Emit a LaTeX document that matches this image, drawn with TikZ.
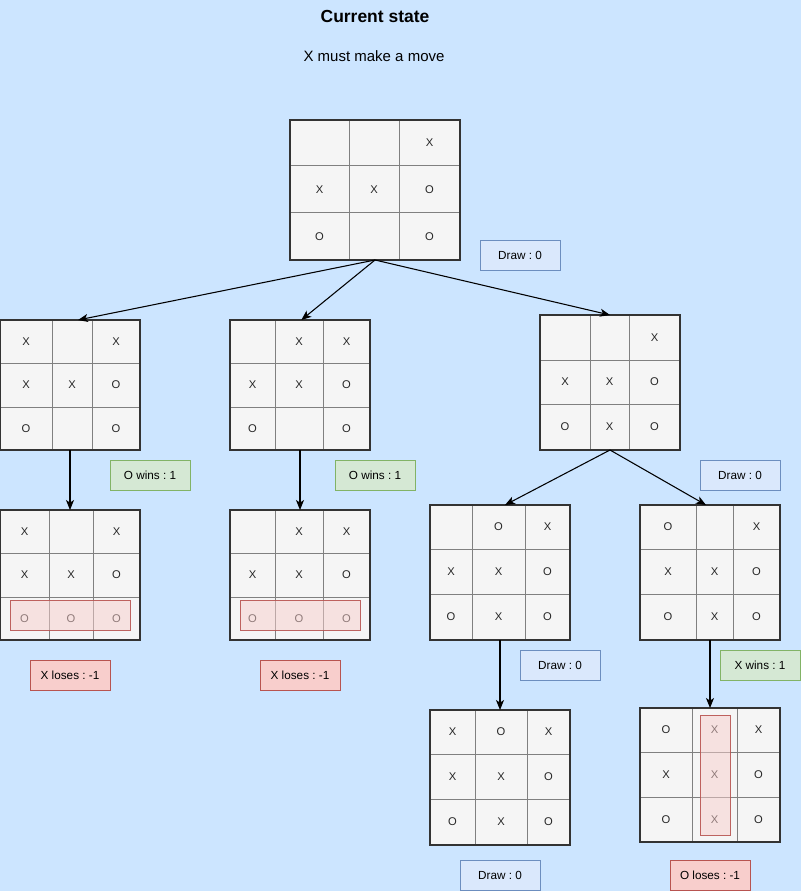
\documentclass[tikz,border=0pt]{standalone}
\usepackage{fontspec}
\setmainfont{Liberation Sans}
\usetikzlibrary{arrows.meta,fit}
\definecolor{bgc}{HTML}{CCE5FF}
\definecolor{cellfill}{HTML}{F5F5F5}
\definecolor{edgec}{HTML}{333333}
\definecolor{gridc}{HTML}{808080}
\definecolor{drawfill}{HTML}{DAE8FC}
\definecolor{drawline}{HTML}{6C8EBF}
\definecolor{winfill}{HTML}{D5E8D4}
\definecolor{winline}{HTML}{82B366}
\definecolor{losefill}{HTML}{F8CECC}
\definecolor{loseline}{HTML}{B85450}
\frenchspacing
\tikzset{
  boardbg/.style={fill=cellfill, inner sep=0pt, outer sep=0pt},
  boardedge/.style={draw=edgec, line width=0.9pt},
  gridline/.style={draw=gridc, line width=0.75pt},
  shadowc/.style={fill=black!55, fill opacity=0.6},
  cell/.style={text=black!85, font=\fontsize{8.4}{10}\selectfont, inner sep=0pt},
  lbl/.style={minimum width=60pt, minimum height=22.5pt, inner sep=0pt, line width=0.75pt,
    font=\fontsize{8.8}{10}\selectfont},
  drawlbl/.style={lbl, fill=drawfill, draw=drawline},
  winlbl/.style={lbl, fill=winfill, draw=winline},
  loselbl/.style={lbl, fill=losefill, draw=loseline},
  hilite/.style={fill=losefill, fill opacity=0.5, draw=loseline, draw opacity=0.9, line width=0.75pt, inner sep=0pt},
  arr/.style={draw=black, line width=0.8pt, -{Stealth[length=7.5pt, width=6pt, inset=2pt]}},
}
\newcommand\setgeom[8]{\def\xA{#1}\def\xB{#2}\def\xC{#3}\def\xD{#4}\def\yA{#5}\def\yB{#6}\def\yC{#7}\def\yD{#8}}
\newcommand\drawboard[1]{%
  \def\bname{#1}%
  \fill[shadowc] (\xA+1.3,\yA+1.3) rectangle (\xD+1.3,\yD+1.3);
  \node[boardbg, fit={(\xA,\yA) (\xD,\yD)}] (#1) {};
  \draw[gridline] (\xB,\yA) -- (\xB,\yD) (\xC,\yA) -- (\xC,\yD)
                  (\xA,\yB) -- (\xD,\yB) (\xA,\yC) -- (\xD,\yC);
  \draw[boardedge] (#1.north west) rectangle (#1.south east);
}
\newcommand\cells[9]{%
  \node[cell] (\bname-1) at ({(\xA+\xB)/2},{(\yA+\yB)/2}) {#1};
  \node[cell] (\bname-2) at ({(\xB+\xC)/2},{(\yA+\yB)/2}) {#2};
  \node[cell] (\bname-3) at ({(\xC+\xD)/2},{(\yA+\yB)/2}) {#3};
  \node[cell] (\bname-4) at ({(\xA+\xB)/2},{(\yB+\yC)/2}) {#4};
  \node[cell] (\bname-5) at ({(\xB+\xC)/2},{(\yB+\yC)/2}) {#5};
  \node[cell] (\bname-6) at ({(\xC+\xD)/2},{(\yB+\yC)/2}) {#6};
  \node[cell] (\bname-7) at ({(\xA+\xB)/2},{(\yC+\yD)/2}) {#7};
  \node[cell] (\bname-8) at ({(\xB+\xC)/2},{(\yC+\yD)/2}) {#8};
  \node[cell] (\bname-9) at ({(\xC+\xD)/2},{(\yC+\yD)/2}) {#9};
}
\begin{document}
\begin{tikzpicture}[x=0.75pt,y=-0.75pt]
\fill[bgc] (0,0) rectangle (801,891);
\useasboundingbox (0,0) rectangle (801,891);

\node[font=\bfseries\fontsize{13.1}{15}\selectfont, inner sep=0pt] (title) at (375,16) {Current state};
\node[font=\fontsize{11.25}{13}\selectfont, inner sep=0pt] (sub) at (374,56) {X must make a move};

% top board
\setgeom{290}{349}{399}{460}{120}{166}{213}{260}
\drawboard{b0}\cells{}{}{X}{X}{X}{O}{O}{}{O}

% level 1
\setgeom{0}{52}{92}{140}{320}{363}{407}{450}
\drawboard{b1}\cells{X}{}{X}{X}{X}{O}{O}{}{O}
\setgeom{230}{275}{323}{370}{320}{363}{407}{450}
\drawboard{b2}\cells{}{X}{X}{X}{X}{O}{O}{}{O}
\setgeom{540}{590}{629}{680}{315}{360}{404}{450}
\drawboard{b5}\cells{}{}{X}{X}{X}{O}{O}{X}{O}

% level 2
\setgeom{0}{49}{93}{140}{510}{553}{597}{640}
\drawboard{b3}\cells{X}{}{X}{X}{X}{O}{O}{O}{O}
\setgeom{230}{275}{323}{370}{510}{553}{597}{640}
\drawboard{b4}\cells{}{X}{X}{X}{X}{O}{O}{O}{O}
\setgeom{430}{472}{525}{570}{505}{549}{594}{640}
\drawboard{b6}\cells{}{O}{X}{X}{X}{O}{O}{X}{O}
\setgeom{640}{696}{733}{780}{505}{549}{594}{640}
\drawboard{b7}\cells{O}{}{X}{X}{X}{O}{O}{X}{O}

% level 3
\setgeom{430}{475}{527}{570}{710}{754}{799}{845}
\drawboard{b8}\cells{X}{O}{X}{X}{X}{O}{O}{X}{O}
\setgeom{640}{692}{737}{780}{708}{752}{797}{842}
\drawboard{b9}\cells{O}{X}{X}{X}{X}{O}{O}{X}{O}

% highlights
\node[hilite, fit={(10,600) (130,630)}] (h3) {};
\node[hilite, fit={(240,600) (360,630)}] (h4) {};
\node[hilite, fit={(700,715) (730,835)}] (h9) {};

% labels
\node[drawlbl] (l0) at (520,255) {Draw : 0};
\node[winlbl] (l1) at (150,475) {O wins : 1};
\node[winlbl] (l2) at (375,475) {O wins : 1};
\node[drawlbl] (l5) at (740,475) {Draw : 0};
\node[loselbl] (l3) at (70,675) {X loses : -1};
\node[loselbl] (l4) at (300,675) {X loses : -1};
\node[drawlbl] (l6) at (560,665) {Draw : 0};
\node[winlbl] (l7) at (760,665) {X wins : 1};
\node[drawlbl] (l8) at (500,875) {Draw : 0};
\node[loselbl] (l9) at (710,875) {O loses : -1};

% connectors
\draw[arr] (b0.south) -- ([xshift=6pt]b1.north);
\draw[arr] (b0.south) -- ([xshift=1pt]b2.north);
\draw[arr] (b0.south) -- (b5.north);
\draw[arr] (b1.south) -- (b3.north);
\draw[arr] (b2.south) -- (b4.north);
\draw[arr] (b5.south) -- ([xshift=3.75pt]b6.north);
\draw[arr] (b5.south) -- ([xshift=-3pt]b7.north);
\draw[arr] (b6.south) -- (b8.north);
\draw[arr] (b7.south) -- (b9.north);
\end{tikzpicture}
\end{document}
